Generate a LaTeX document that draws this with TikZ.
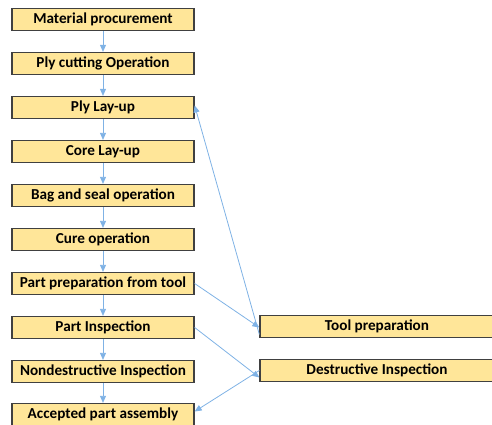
\documentclass[tikz,border=0pt]{standalone}
\usepackage{fontspec}
\setmainfont{Carlito}
\usetikzlibrary{arrows.meta}
\definecolor{boxfill}{HTML}{FFE699}
\definecolor{boxline}{HTML}{404040}
\definecolor{arrowc}{HTML}{7FB2E5}
\tikzset{
  stepbox/.style={draw=boxline, line width=1.3pt, fill=boxfill, minimum height=22pt,
    inner sep=0pt, font=\fontsize{15.2}{17}\selectfont\bfseries, text=black},
  leftbox/.style={stepbox, minimum width=182pt},
  rightbox/.style={stepbox, minimum width=234pt},
  conn/.style={draw=arrowc, line width=0.8pt, -{Triangle[length=7pt,width=6pt]}}
}
\begin{document}
\begin{tikzpicture}[x=1pt,y=-1pt]
\useasboundingbox (0,0) rectangle (492,425);
\node[leftbox] (n1) at (103,19.5) {Material procurement};
\node[leftbox] (n2) at (103,63.5) {Ply cutting Operation};
\node[leftbox] (n3) at (103,107.5) {Ply Lay-up};
\node[leftbox] (n4) at (103,151.5) {Core Lay-up};
\node[leftbox] (n5) at (103,195.5) {Bag and seal operation};
\node[leftbox] (n6) at (103,239.5) {Cure operation};
\node[leftbox] (n7) at (103,283.5) {Part preparation from tool};
\node[leftbox] (n8) at (103,327.5) {Part Inspection};
\node[leftbox] (n9) at (103,371.5) {Nondestructive Inspection};
\node[leftbox] (n10) at (103,414.5) {Accepted part assembly};
\node[rightbox] (tp) at (377,326.5) {Tool preparation};
\node[rightbox] (di) at (377,370.5) {Destructive Inspection};
\foreach \a/\b in {n1/n2,n2/n3,n3/n4,n4/n5,n5/n6,n6/n7,n7/n8,n8/n9,n9/n10}
  \draw[conn] (\a.south) -- (\b.north);
\coordinate (tpa) at ([yshift=-8pt]tp.west);
\draw[conn] (tpa) -- ([yshift=2pt]n3.east);
\draw[conn] (n7.east) -- ([yshift=-1pt]tp.west);
\draw[conn] (n8.east) -- ([yshift=-7pt]di.west);
\draw[conn] (di.west) -- ([yshift=3pt]n10.east);
\end{tikzpicture}
\end{document}
